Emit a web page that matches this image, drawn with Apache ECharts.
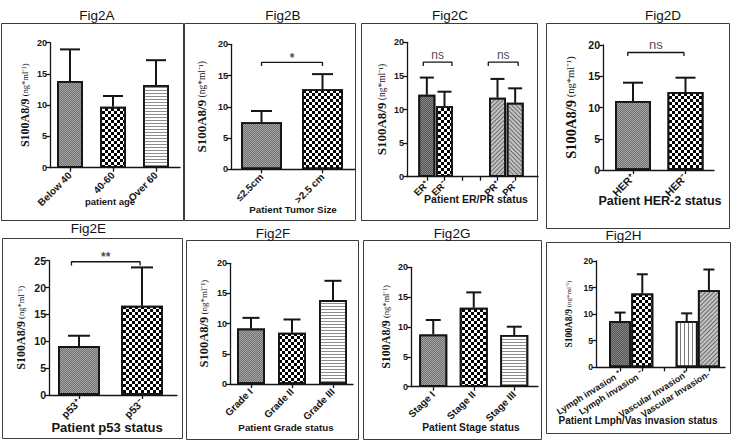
<!DOCTYPE html>
<html><head><meta charset="utf-8">
<script src="https://cdn.jsdelivr.net/npm/echarts@6/dist/echarts.min.js"></script>
<style>html,body{margin:0;padding:0;background:#fff}#c{width:732px;height:441px}</style>
</head><body><div id="c"></div>
<script>
// ---------------- DATA ----------------
const catsA = ['Below 40', '40-60', 'Over 60'];
const meanA = [13.87, 9.76, 13.23];
const upperA = [18.93, 11.47, 17.2];

const catsB = ['≤2.5cm', '>2.5 cm'];
const meanB = [7.52, 12.8];
const upperB = [9.33, 15.23];
const bracketsB = [[0, 1, 17.1, '*']];

const catsC = ['ER⁺', 'ER⁻', '', '', 'PR⁺', 'PR⁻'];
const meanC = [12.2, 10.5, null, null, 11.76, 11.0];
const upperC = [14.75, 12.65, null, null, 14.55, 13.15];
const bracketsC = [[-0.2, 1.42, 17.05, 'ns'], [3.48, 5.17, 17.05, 'ns']];

const catsD = ['HER⁺', 'HER⁻'];
const meanD = [11.04, 12.48];
const upperD = [13.97, 14.77];
const bracketsD = [[-0.1, 0.97, 18.8, 'ns']];

const catsE = ['p53⁺', 'p53⁻'];
const meanE = [9.1, 16.6];
const upperE = [11.03, 23.75];
const bracketsE = [[-0.12, 0.97, 24.8, '**']];

const catsF = ['Grade I', 'Grade II', 'Grade III'];
const meanF = [9.2, 8.48, 13.9];
const upperF = [10.96, 10.69, 17.1];

const catsG = ['Stage I', 'Stage II', 'Stage III'];
const meanG = [8.76, 13.24, 8.66];
const upperG = [11.17, 15.8, 10.05];

const catsH = ['Lymph invasion ⁺', 'Lymph invasion ⁻', '', 'Vascular Invasion⁺', 'Vascular Invasion-'];
const meanH = [8.7, 13.9, null, 8.7, 14.5];
const upperH = [10.3, 17.5, null, 10.15, 18.4];

const yAxisName = '{a|S100A8/9}{b| (ng*ml⁻¹)}';

// ---------------- STYLES ----------------
const INK = '#151515';
const PAT = {
  gray:   {color: '#a4a4a4', decal: {symbol: 'rect', symbolSize: 1, color: 'rgba(70,70,70,0.55)', dashArrayX: [[1, 1], [0, 1, 1, 0]], dashArrayY: [1, 0]}},
  dark:   {color: '#868686', decal: {symbol: 'rect', symbolSize: 1, color: 'rgba(50,50,50,0.6)', dashArrayX: [[1, 1], [0, 1, 1, 0]], dashArrayY: [1, 0]}},
  check:  {color: '#ffffff', decal: {symbol: 'rect', symbolSize: 1, color: '#000', dashArrayX: [[3, 3], [0, 3, 3, 0]], dashArrayY: [3, 0]}},
  hstripe:{color: '#ffffff', decal: {symbol: 'rect', symbolSize: 1, color: '#8c8c8c', dashArrayX: [1, 0], dashArrayY: [1, 2]}},
  diagA:  {color: '#c4c4c4', decal: {symbol: 'rect', symbolSize: 1, color: '#6a6a6a', dashArrayX: [1, 0], dashArrayY: [1, 2], rotation: -Math.PI / 4}},
  diagB:  {color: '#c4c4c4', decal: {symbol: 'rect', symbolSize: 1, color: '#6a6a6a', dashArrayX: [1, 0], dashArrayY: [1, 2], rotation: Math.PI / 4}},
  vstripe:{color: '#ffffff', decal: {symbol: 'rect', symbolSize: 1, color: '#7a7a7a', dashArrayX: [1, 3], dashArrayY: [1, 0]}}
};

// ---------------- LAYOUT ----------------
// frame: [x1, y1, x2, y2]
const panels = [
  {title: 'Fig2A', tx: 97, ty: 15.5, frame: [1, 23, 183, 220], cats: catsA, mean: meanA, upper: upperA, br: [], pats: ['gray', 'check', 'hstripe'],
   ymax: 20, axL: 50, axR: 180, top: 42.7, zero: 167.7, dL: 48.5, dR: 177.5, barW: 26, capW: 20,
   nameGap: 19, nA: 12, nB: 8.5, tickFs: 9, xFs: 10, xRot: 45, xTitle: 'patient age', xtX: 110, xtY: 201, xtFs: 9.5},
  {title: 'Fig2B', tx: 283, ty: 15.5, frame: [184, 23, 355, 220], cats: catsB, mean: meanB, upper: upperB, br: bracketsB, pats: ['gray', 'check'],
   ymax: 20, axL: 231, axR: 355, top: 44.3, zero: 169.3, dL: 231, dR: 353, barW: 41, capW: 21,
   nameGap: 23, nA: 13, nB: 9.5, tickFs: 9, xFs: 10, xRot: 45, xTitle: 'Patient Tumor Size', xtX: 293, xtY: 209, xtFs: 9.8},
  {title: 'Fig2C', tx: 450, ty: 15.5, frame: [361, 23, 537, 220], cats: catsC, mean: meanC, upper: upperC, br: bracketsC, pats: ['dark', 'check', null, null, 'diagA', 'diagB'],
   ymax: 20, axL: 407, axR: 538, top: 42.3, zero: 176.7, dL: 418, dR: 524, barW: 17, capW: 14,
   nameGap: 19, nA: 13, nB: 9.5, tickFs: 9, xFs: 9.5, xRot: 45, xTitle: 'Patient ER/PR status', xtX: 476, xtY: 199, xtFs: 10.5},
  {title: 'Fig2D', tx: 663, ty: 15.5, frame: [546, 23, 729, 228], cats: catsD, mean: meanD, upper: upperD, br: bracketsD, pats: ['gray', 'check'],
   ymax: 20, axL: 603, axR: 714, top: 45, zero: 170, dL: 606.75, dR: 711.75, barW: 36, capW: 20,
   nameGap: 25, nA: 14.5, nB: 10.5, tickFs: 10.5, xFs: 10.5, xRot: 45, xTitle: 'Patient HER-2 status', xtX: 660, xtY: 201, xtFs: 12.5},
  {title: 'Fig2E', tx: 88.5, ty: 228.5, frame: [2, 238, 182, 438], cats: catsE, mean: meanE, upper: upperE, br: bracketsE, pats: ['gray', 'check'],
   ymax: 25, axL: 49, axR: 177, top: 260.7, zero: 395, dL: 47.5, dR: 173.5, barW: 42, capW: 22,
   nameGap: 22, nA: 12, nB: 8.5, tickFs: 10.5, xFs: 10.5, xRot: 45, xTitle: 'Patient p53 status', xtX: 107, xtY: 427, xtFs: 13},
  {title: 'Fig2F', tx: 273, ty: 233, frame: [186, 240, 358, 439], cats: catsF, mean: meanF, upper: upperF, br: [], pats: ['gray', 'check', 'hstripe'],
   ymax: 20, axL: 230, axR: 353, top: 263.3, zero: 384, dL: 230.5, dR: 353.5, barW: 28, capW: 17,
   nameGap: 20, nA: 12.5, nB: 9, tickFs: 9, xFs: 10, xRot: 45, xTitle: 'Patient Grade status', xtX: 286, xtY: 427, xtFs: 9.8},
  {title: 'Fig2G', tx: 452, ty: 233, frame: [363, 240, 541, 439], cats: catsG, mean: meanG, upper: upperG, br: [], pats: ['gray', 'check', 'hstripe'],
   ymax: 20, axL: 411, axR: 538, top: 267.3, zero: 386.7, dL: 413, dR: 534.5, barW: 28, capW: 15,
   nameGap: 19, nA: 12, nB: 8.5, tickFs: 9, xFs: 10, xRot: 45, xTitle: 'Patient Stage status', xtX: 471, xtY: 427, xtFs: 10.2},
  {title: 'Fig2H', tx: 623.5, ty: 235.5, frame: [546, 242, 730, 433], cats: catsH, mean: meanH, upper: upperH, br: [], pats: ['dark', 'check', null, 'vstripe', 'diagA'],
   ymax: 20, axL: 596, axR: 725, top: 261, zero: 367.3, dL: 609, dR: 720, barW: 22, capW: 11,
   nameGap: 22, nA: 9.5, nB: 7, tickFs: 8.5, xFs: 9, xRot: 32, xTitle: 'Patient Lmph/Vas invasion status', xtX: 638, xtY: 420, xtFs: 10}
];

// ---------------- BUILD ----------------
const option = {
  animation: false, backgroundColor: '#fff',
  textStyle: {fontFamily: 'Liberation Sans'},
  grid: [], xAxis: [], yAxis: [], series: [], graphic: []
};

panels.forEach((p, k) => {
  const h = p.zero - p.top;
  const gF = 2 * k, gD = 2 * k + 1;
  option.grid.push({left: p.axL, top: p.top, width: p.axR - p.axL, height: h, containLabel: false, outerBoundsMode: 'none'});
  option.grid.push({left: p.dL, top: p.top, width: p.dR - p.dL, height: h, containLabel: false, outerBoundsMode: 'none'});
  option.xAxis.push({gridIndex: gF, type: 'value', min: 0, max: 1, axisLine: {show: true, onZero: false, lineStyle: {color: INK, width: 1.3}},
    axisTick: {show: false}, axisLabel: {show: false}, splitLine: {show: false}});
  option.xAxis.push({gridIndex: gD, type: 'category', data: p.cats, position: 'bottom',
    axisLine: {show: false, onZero: false},
    axisTick: {show: true, alignWithLabel: true, interval: 0, length: 4, lineStyle: {color: INK, width: 1.3}},
    axisLabel: {interval: 0, rotate: p.xRot, fontSize: p.xFs, fontWeight: 'bold', color: INK, margin: 6, fontFamily: 'Liberation Sans'},
    splitLine: {show: false}});
  option.xAxis.push({gridIndex: gD, type: 'value', position: 'top', show: false, min: -0.5, max: p.cats.length - 0.5});
  option.yAxis.push({gridIndex: gF, type: 'value', min: 0, max: p.ymax, interval: 5,
    axisLine: {show: true, lineStyle: {color: INK, width: 1.3}},
    axisTick: {show: true, length: 4, lineStyle: {color: INK, width: 1.3}},
    axisLabel: {fontSize: p.tickFs, fontWeight: 'bold', color: INK, margin: 3, fontFamily: 'Liberation Sans'},
    splitLine: {show: false},
    name: yAxisName, nameLocation: 'middle', nameRotate: 90, nameGap: p.nameGap,
    nameTextStyle: {rich: {
      a: {fontFamily: 'Liberation Serif', fontWeight: 'bold', fontSize: p.nA, color: INK},
      b: {fontFamily: 'Liberation Serif', fontSize: p.nB, color: INK}
    }}});
  option.yAxis.push({gridIndex: gD, type: 'value', min: 0, max: p.ymax, show: false});

  const xCat = 3 * k + 1, xVal = 3 * k + 2, yD = gD;
  option.series.push({
    type: 'bar', xAxisIndex: xCat, yAxisIndex: yD, barWidth: p.barW, z: 2,
    itemStyle: {borderColor: INK, borderWidth: 1.8},
    data: p.mean.map((v, i) => v == null ? '-' : {value: v, itemStyle: {color: PAT[p.pats[i]].color, decal: PAT[p.pats[i]].decal}})
  });
  const capHalf = p.capW / 2;
  option.series.push({
    type: 'custom', xAxisIndex: xCat, yAxisIndex: yD, z: 3,
    encode: {x: 0, y: [1, 2]},
    data: p.mean.map((v, i) => v == null ? null : [i, v, p.upper[i]]).filter(d => d),
    renderItem: (params, api) => {
      const x = api.value(0);
      const p0 = api.coord([x, api.value(1)]);
      const p1 = api.coord([x, api.value(2)]);
      return {type: 'group', children: [
        {type: 'line', shape: {x1: p0[0], y1: p0[1], x2: p1[0], y2: p1[1]}, style: {stroke: INK, lineWidth: 2}},
        {type: 'line', shape: {x1: p1[0] - capHalf, y1: p1[1], x2: p1[0] + capHalf, y2: p1[1]}, style: {stroke: INK, lineWidth: 2}}
      ]};
    }
  });
  const drop = p.ymax * 0.028;
  p.br.forEach(b => {
    option.series.push({
      type: 'line', xAxisIndex: xVal, yAxisIndex: yD, symbol: 'none', z: 3, clip: false, silent: true,
      lineStyle: {color: INK, width: 1.3},
      data: [[b[0], b[2] - drop], [b[0], b[2]], [b[1], b[2]], [b[1], b[2] - drop]]
    });
    option.series.push({
      type: 'scatter', xAxisIndex: xVal, yAxisIndex: yD, symbolSize: 1, z: 3, clip: false, silent: true,
      itemStyle: {color: 'rgba(0,0,0,0)'},
      label: {show: true, position: 'top', distance: b[3] === 'ns' ? 1 : -2, formatter: b[3],
              fontSize: b[3] === 'ns' ? (k === 3 ? 13 : 12) : 12, fontWeight: b[3] === 'ns' ? 'normal' : 'bold', color: INK, fontFamily: 'Liberation Sans'},
      data: [[(b[0] + b[1]) / 2, b[2]]]
    });
  });

  option.graphic.push({type: 'rect', silent: true,
    shape: {x: p.frame[0] + 0.5, y: p.frame[1] + 0.5, width: p.frame[2] - p.frame[0], height: p.frame[3] - p.frame[1]},
    style: {fill: 'none', stroke: '#3c3c3c', lineWidth: 1}});
  option.graphic.push({type: 'text', silent: true, x: p.tx, y: p.ty,
    style: {text: p.title, fontSize: 13.5, fontFamily: 'Liberation Sans', fill: '#111', align: 'center', verticalAlign: 'middle'}});
  option.graphic.push({type: 'text', silent: true, x: p.xtX, y: p.xtY,
    style: {text: p.xTitle, fontSize: p.xtFs, fontWeight: 'bold', fontFamily: 'Liberation Sans', fill: INK, align: 'center', verticalAlign: 'middle'}});
});

const chart = echarts.init(document.getElementById('c'), null, {renderer: 'svg', width: 732, height: 441});
chart.setOption(option);
</script>
</body></html>
